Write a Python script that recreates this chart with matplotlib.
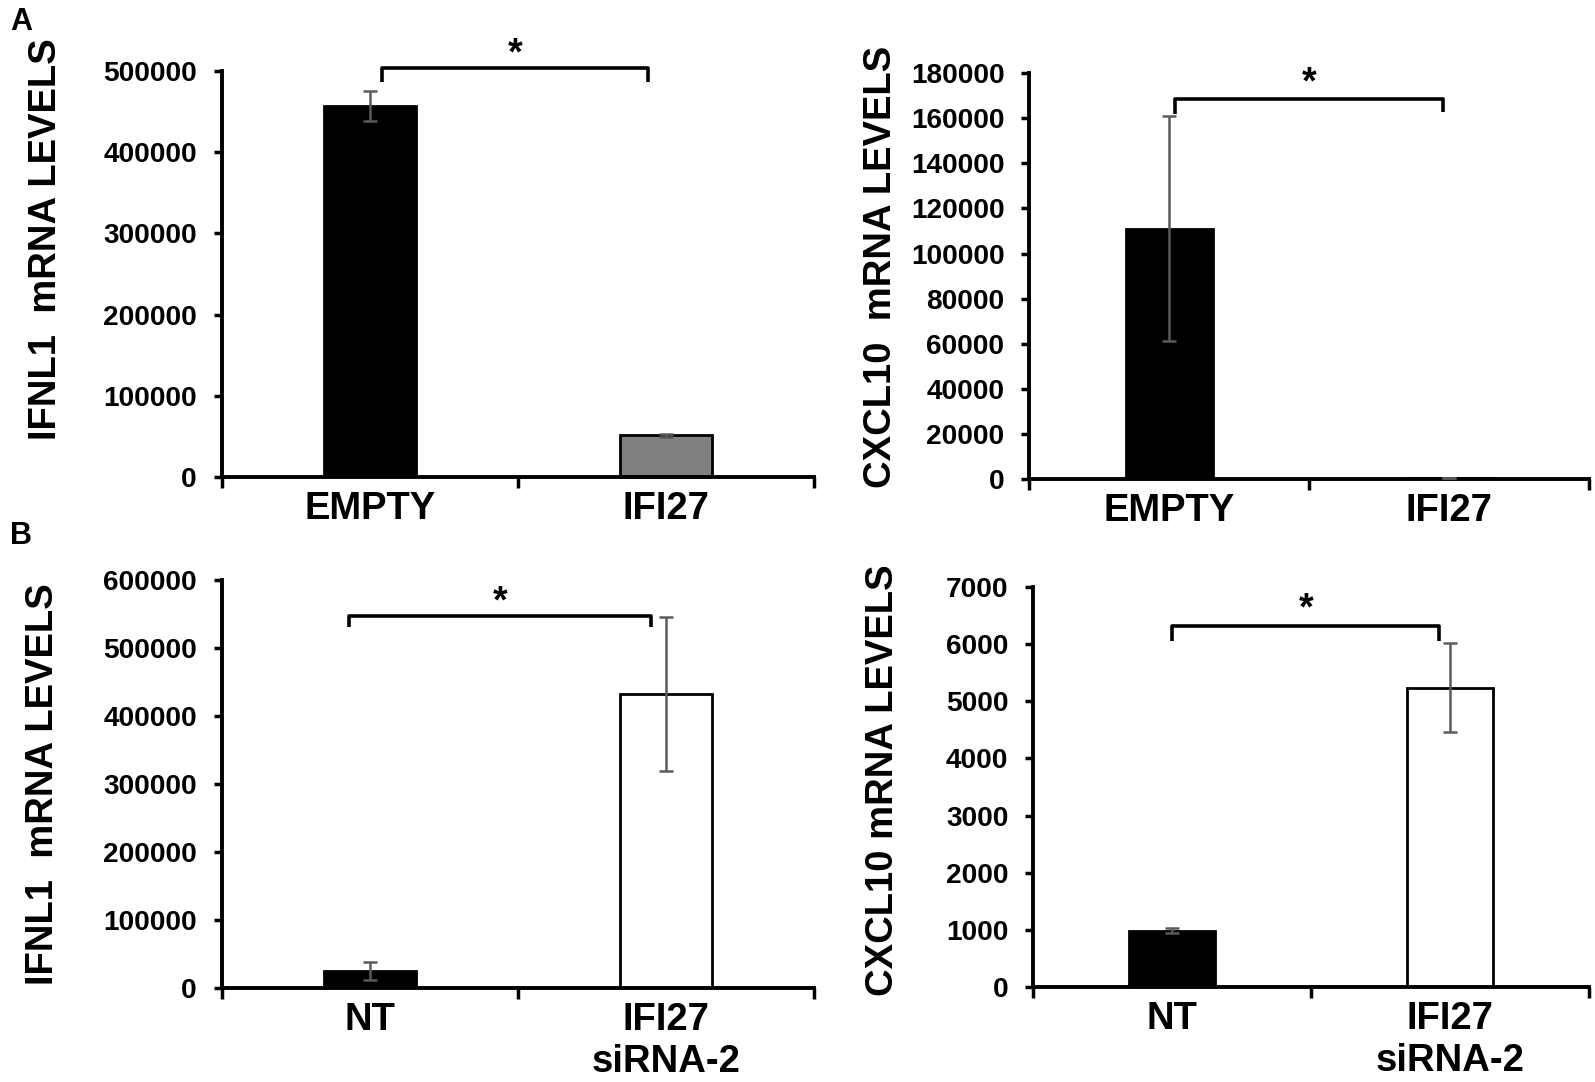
import matplotlib
matplotlib.use("Agg")
import matplotlib.pyplot as plt

plt.rcParams['font.family'] = ['Liberation Sans', 'DejaVu Sans']
plt.rcParams['font.weight'] = 'bold'

# ---- data ----
a_cats = ["EMPTY", "IFI27"]
a_ifnl1 = [457000, 51500]
a_ifnl1_err = [18000, 1800]
a_cxcl10 = [111000, 300]
a_cxcl10_err = [50000, 0]

b_cats = ["NT", "IFI27\nsiRNA-2"]
b_ifnl1 = [25500, 432500]
b_ifnl1_err = [13000, 113000]
b_cxcl10 = [990, 5240]
b_cxcl10_err = [40, 785]

a_ifnl1_ticks = [0, 100000, 200000, 300000, 400000, 500000]
a_cxcl10_ticks = [0, 20000, 40000, 60000, 80000, 100000, 120000, 140000, 160000, 180000]
b_ifnl1_ticks = [0, 100000, 200000, 300000, 400000, 500000, 600000]
b_cxcl10_ticks = [0, 1000, 2000, 3000, 4000, 5000, 6000, 7000]

# layout measured on a 1568-wide view of the 1595x1082 canvas
W, H = 1568, 1064
fig = plt.figure(figsize=(15.95, 10.82), dpi=100)


def rect(l, r, t, b):
    return [l / W, 1 - b / H, (r - l) / W, (b - t) / H]


def panel(box, cats, vals, errs, colors, ticks, ymax, bracket, ylabel, ylab_xy, ylab_size):
    ax = fig.add_axes(box)
    pos = [0.5, 1.5]
    ax.bar(pos, vals, width=0.31, color=colors, edgecolor='black', linewidth=2.0, zorder=2)
    ax.errorbar(pos, vals, yerr=errs, fmt='none', ecolor='#5a5a5a', elinewidth=1.8,
                capsize=5, capthick=1.8, zorder=3)
    ax.set_xlim(0, 2)
    ax.set_ylim(0, ymax)
    ax.set_yticks(ticks)
    ax.set_yticklabels([str(t) for t in ticks], fontsize=20.2, fontweight='bold')
    ax.set_xticks([0, 1, 2])
    ax.set_xticklabels([])
    ax.set_xticks(pos, minor=True)
    ax.set_xticklabels(cats, minor=True, fontsize=27.5, fontweight='bold', linespacing=1.2)
    ax.tick_params(axis='x', which='minor', length=0, pad=10)
    ax.tick_params(axis='x', which='major', length=8, width=2.5, direction='out')
    ax.tick_params(axis='y', length=6, width=2.5, direction='out', pad=12)
    for s in ['top', 'right']:
        ax.spines[s].set_visible(False)
    for s in ['left', 'bottom']:
        ax.spines[s].set_linewidth(2.8)
    x0, x1, yb, yl, yr, ys = bracket
    ax.plot([x0, x0, x1, x1], [yl, yb, yb, yr], color='black', lw=2.6,
            clip_on=False, solid_joinstyle='round', solid_capstyle='butt', zorder=4)
    ax.text((x0 + x1) / 2, ys, "*", ha='center', va='center', fontsize=27,
            fontweight='bold', clip_on=False)
    fig.text(ylab_xy[0] / W, 1 - ylab_xy[1] / H, ylabel, rotation=90, ha='center',
             va='center', fontsize=ylab_size, fontweight='bold')
    return ax


panel(rect(218, 800, 70, 469), a_cats, a_ifnl1, a_ifnl1_err, ['black', '#808080'],
      a_ifnl1_ticks, 500000, (0.54, 1.44, 504000, 487000, 487000, 520000),
      "IFNL1  mRNA LEVELS", (45, 235), 27.5)
panel(rect(1012, 1562, 72, 471), a_cats, a_cxcl10, a_cxcl10_err, ['black', 'black'],
      a_cxcl10_ticks, 180000, (0.52, 1.48, 168700, 162000, 162900, 175500),
      "CXCL10  mRNA LEVELS", (866, 262), 27.5)
panel(rect(218, 800, 570, 972), b_cats, b_ifnl1, b_ifnl1_err, ['black', 'white'],
      b_ifnl1_ticks, 600000, (0.43, 1.45, 546000, 530000, 530000, 566000),
      "IFNL1  mRNA LEVELS", (42, 771), 27.5)
panel(rect(1016, 1562, 577, 971), b_cats, b_cxcl10, b_cxcl10_err, ['black', 'white'],
      b_cxcl10_ticks, 7000, (0.50, 1.46, 6307, 6058, 6058, 6600),
      "CXCL10 mRNA LEVELS", (868, 767), 27.5)

fig.text(10 / W, 1 - 22 / H, "A", fontsize=22, fontweight='bold', ha='left', va='center')
fig.text(10 / W, 1 - 527 / H, "B", fontsize=22, fontweight='bold', ha='left', va='center')

fig.savefig("out.png", dpi=100, facecolor='white')
